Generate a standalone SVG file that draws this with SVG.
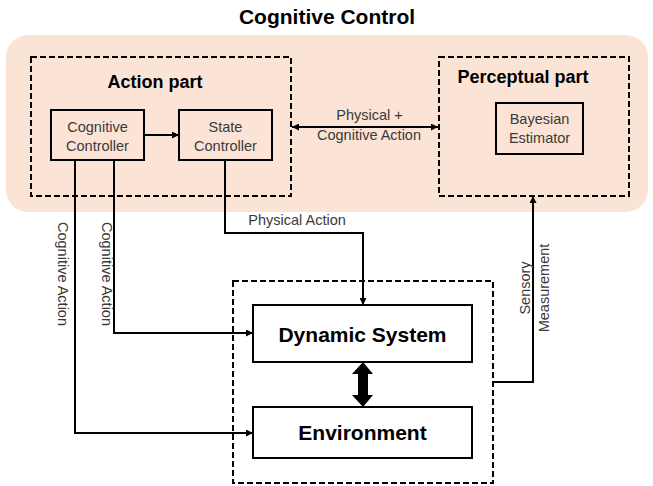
<svg xmlns="http://www.w3.org/2000/svg" width="653" height="486" viewBox="0 0 653 486">
<defs>
<marker id="ah" viewBox="0 0 10 10" refX="10" refY="5" markerWidth="7" markerHeight="7" markerUnits="userSpaceOnUse" orient="auto-start-reverse">
<path d="M0,0 L10,5 L0,10 z" fill="#000"/>
</marker>
<style>
.box{fill:none;stroke:#000;stroke-width:2}
.dash{fill:none;stroke:#000;stroke-width:2;stroke-dasharray:6,3}
.ln{fill:none;stroke:#000;stroke-width:2}
.t{font-family:"Liberation Sans",Arial,sans-serif;font-size:14.5px;fill:#3a3a3a;text-anchor:middle}
.b{font-family:"Liberation Sans",Arial,sans-serif;font-weight:bold;fill:#000;text-anchor:middle}
</style>
</defs>
<rect x="6" y="35" width="642" height="177" rx="22" fill="#FBE4D5"/>
<text class="b" x="327" y="24" font-size="21">Cognitive Control</text>

<g id="action-part">
<rect class="dash" x="31" y="57" width="260" height="139"/>
<text class="b" x="155" y="88" font-size="18">Action part</text>
</g>
<g id="cognitive-controller">
<rect class="box" x="51" y="110" width="93" height="50"/>
<text class="t" x="97.5" y="132">Cognitive</text>
<text class="t" x="97.5" y="151">Controller</text>
</g>
<g id="state-controller">
<rect class="box" x="179" y="110" width="93" height="50"/>
<text class="t" x="225.5" y="132">State</text>
<text class="t" x="225.5" y="151">Controller</text>
</g>
<g id="perceptual-part">
<rect class="dash" x="439" y="57" width="190" height="139"/>
<text class="b" x="523" y="83" font-size="18">Perceptual part</text>
</g>
<g id="bayesian-estimator">
<rect class="box" x="496" y="103" width="87" height="51"/>
<text class="t" x="539.5" y="124">Bayesian</text>
<text class="t" x="539.5" y="143">Estimator</text>
</g>
<g id="system">
<rect class="dash" x="233" y="281" width="260" height="202"/>
</g>
<g id="dynamic-system">
<rect class="box" x="253" y="305" width="219" height="57"/>
<text class="b" x="362.5" y="342" font-size="21">Dynamic System</text>
</g>
<g id="environment">
<rect class="box" x="253" y="407" width="219" height="51"/>
<text class="b" x="362.5" y="440" font-size="21">Environment</text>
</g>

<g id="connectors">
<line class="ln" x1="144" y1="135" x2="179" y2="135" marker-end="url(#ah)"/>
<line class="ln" x1="292" y1="127" x2="438" y2="127" marker-start="url(#ah)" marker-end="url(#ah)"/>
<polyline class="ln" points="75,160 75,433 253,433" marker-end="url(#ah)"/>
<polyline class="ln" points="114,160 114,333 253,333" marker-end="url(#ah)"/>
<polyline class="ln" points="225,160 225,233 363,233 363,305" marker-end="url(#ah)"/>
<polyline class="ln" points="493,382 533,382 533,196" marker-end="url(#ah)"/>
<polygon points="363,362 373,374 368,374 368,395 373,395 363,407 352,395 358,395 358,374 352,374" fill="#000"/>
</g>

<g id="labels">
<text class="t" x="369.5" y="120">Physical +</text>
<text class="t" x="369" y="140">Cognitive Action</text>
<text class="t" x="297" y="225">Physical Action</text>
<text class="t" transform="translate(57.5,274) rotate(90)">Cognitive Action</text>
<text class="t" transform="translate(101.5,274) rotate(90)">Cognitive Action</text>
<text class="t" transform="translate(530,288) rotate(-90)">Sensory</text>
<text class="t" transform="translate(549,288) rotate(-90)">Measurement</text>
</g>
</svg>
